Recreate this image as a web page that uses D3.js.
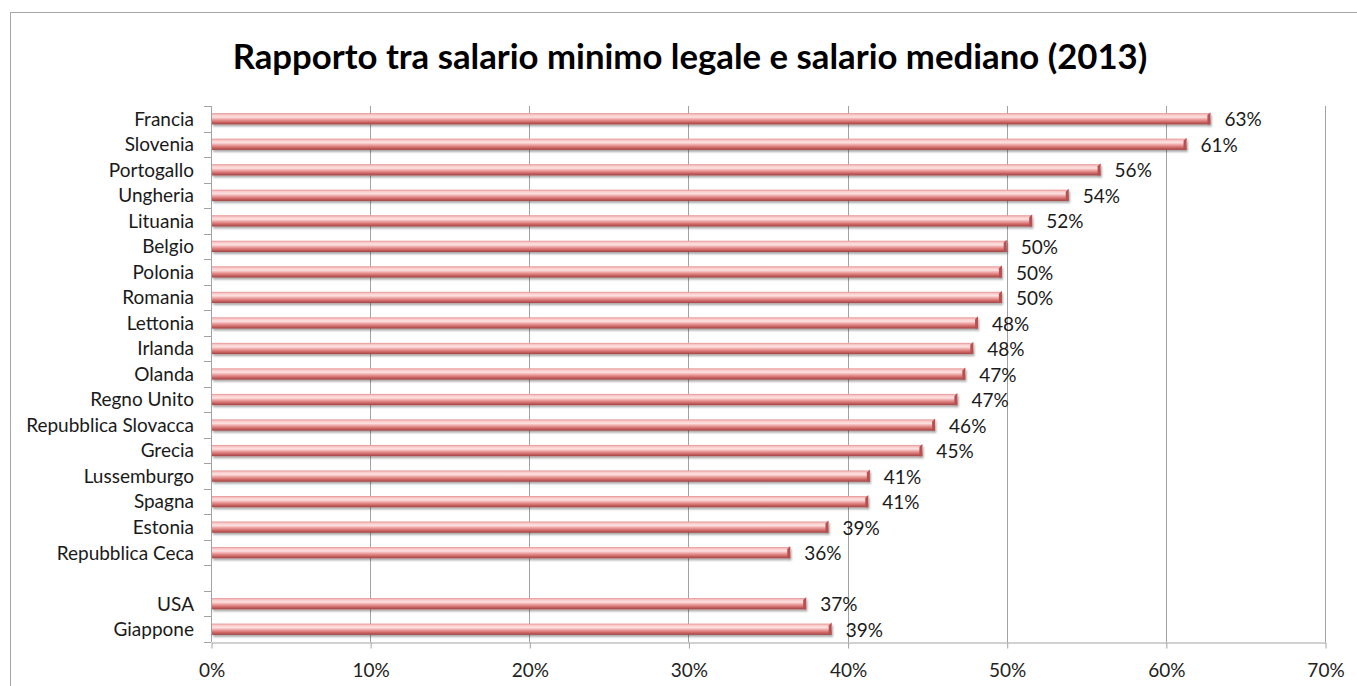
<!DOCTYPE html>
<html><head><meta charset="utf-8">
<script src="https://cdn.jsdelivr.net/npm/d3@7"></script>
<style>html,body{margin:0;padding:0;background:#fff;}svg{display:block;}</style>
</head><body>
<svg id="c" width="1357" height="686"></svg>
<script>
const title = "Rapporto tra salario minimo legale e salario mediano (2013)";
const categories = ["Francia","Slovenia","Portogallo","Ungheria","Lituania","Belgio","Polonia","Romania","Lettonia","Irlanda","Olanda","Regno Unito","Repubblica Slovacca","Grecia","Lussemburgo","Spagna","Estonia","Repubblica Ceca","","USA","Giappone"];
const values = [0.628,0.613,0.559,0.539,0.516,0.500,0.497,0.497,0.482,0.479,0.474,0.469,0.455,0.447,0.414,0.413,0.388,0.364,null,0.374,0.390];
const valueLabels = ["63%","61%","56%","54%","52%","50%","50%","50%","48%","48%","47%","47%","46%","45%","41%","41%","39%","36%","","37%","39%"];
const xTicks = [0,0.1,0.2,0.3,0.4,0.5,0.6,0.7];

const svg = d3.select("#c");
const font = "Lato, 'Open Sans', sans-serif";
const L = 211, R = 1325, T = 106, B = 642;

// outer frame
svg.append("rect").attr("x",10.5).attr("y",12.5).attr("width",1400).attr("height",700)
  .attr("fill","none").attr("stroke","#a6a6a6").attr("stroke-width",1);

const x = d3.scaleLinear().domain([0,0.7]).range([L,R]);
const slots = categories.map((c,i)=>"s"+i);
const y = d3.scaleBand().domain(slots).range([T,B]).paddingInner(0.56).paddingOuter(0.28);
const yb = d3.scaleBand().domain(slots).range([T,B]);

const defs = svg.append("defs");
const g = defs.append("linearGradient").attr("id","barg").attr("x1",0).attr("y1",0).attr("x2",0).attr("y2",1);
[[0,"#e48f8f"],[0.15,"#f9c9c8"],[0.35,"#fde2e2"],[0.55,"#eea3a2"],[0.8,"#cc6665"],[1,"#a14343"]]
  .forEach(([o,c])=>g.append("stop").attr("offset",o).attr("stop-color",c));
const sh = defs.append("filter").attr("id","sh").attr("x","-5%").attr("y","-50%").attr("width","110%").attr("height","250%");
sh.append("feGaussianBlur").attr("in","SourceAlpha").attr("stdDeviation",1.2).attr("result","b");
sh.append("feOffset").attr("in","b").attr("dx",1).attr("dy",2).attr("result","o");
sh.append("feComponentTransfer").attr("in","o").attr("result","o2").append("feFuncA").attr("type","linear").attr("slope",0.35);
const mg = sh.append("feMerge"); mg.append("feMergeNode").attr("in","o2"); mg.append("feMergeNode").attr("in","SourceGraphic");

// gridlines
svg.append("g").selectAll("line").data(xTicks.slice(1)).join("line")
  .attr("x1",d=>Math.round(x(d))+0.5).attr("x2",d=>Math.round(x(d))+0.5)
  .attr("y1",T).attr("y2",B).attr("stroke","#a3a3a3").attr("stroke-width",1);

// x axis
const xAxis = d3.axisBottom(x).tickValues(xTicks).tickFormat(d3.format(".0%")).tickSize(6).tickSizeOuter(0);
const gx = svg.append("g").attr("transform",`translate(0.5,${B+0.5})`).call(xAxis);
gx.select(".domain").attr("stroke","#a3a3a3");
gx.selectAll(".tick line").attr("stroke","#a3a3a3");
gx.selectAll(".tick text").attr("font-family",font).attr("font-size",15).attr("fill","#222").attr("dy","1.35em");

// y axis (ticks at slot boundaries)
svg.append("line").attr("x1",L+0.5).attr("x2",L+0.5).attr("y1",T).attr("y2",B).attr("stroke","#a3a3a3");
const bounds = slots.map(s=>yb(s)).concat([B]);
svg.append("g").selectAll("line").data(bounds).join("line")
  .attr("x1",L-7).attr("x2",L).attr("y1",d=>Math.round(d)+0.5).attr("y2",d=>Math.round(d)+0.5).attr("stroke","#a3a3a3");

// category labels
const catG = svg.append("g").selectAll("text").data(categories).join("text")
  .attr("x",194).attr("y",(d,i)=>yb(slots[i])+yb.bandwidth()/2).attr("dy","0.36em")
  .attr("text-anchor","end").attr("font-family",font).attr("font-size",16).attr("fill","#1a1a1a").text(d=>d);
// fit font size so "Repubblica Slovacca" ~168px
{
  const n = catG.filter(d=>d==="Repubblica Slovacca").node();
  const w = n.getComputedTextLength();
  const fs = 16*168/w;
  catG.attr("font-size",fs);
  gx.selectAll(".tick text").attr("font-size",fs);
}

// bars
const data = values.map((v,i)=>({v,i,lab:valueLabels[i]})).filter(d=>d.v!==null);
const bars = svg.append("g").attr("filter","url(#sh)");
bars.selectAll("rect").data(data).join("rect")
  .attr("x",L+1).attr("y",d=>y(slots[d.i])).attr("height",y.bandwidth())
  .attr("width",d=>x(d.v)-L-1).attr("fill","url(#barg)");
// end caps
bars.selectAll("path").data(data).join("path")
  .attr("d",d=>{const xe=x(d.v), yt=y(slots[d.i]), h=y.bandwidth();
    return `M${xe-3},${yt+2}L${xe},${yt-1}L${xe},${yt+h}L${xe-3},${yt+h}Z`;})
  .attr("fill","#b9504f");

// value labels
svg.append("g").selectAll("text").data(data).join("text")
  .attr("x",d=>x(d.v)+14).attr("y",d=>y(slots[d.i])+y.bandwidth()/2).attr("dy","0.4em")
  .attr("font-family",font).attr("fill","#1a1a1a").text(d=>d.lab)
  .attr("font-size",catG.attr("font-size"));

// title
const t = svg.append("text").attr("x",690).attr("y",69).attr("text-anchor","middle")
  .attr("font-family",font).attr("font-weight","bold").attr("font-size",28).attr("fill","#000").text(title);
{
  const w = t.node().getComputedTextLength();
  t.attr("font-size",28*915/w);
}
</script>
</body></html>
